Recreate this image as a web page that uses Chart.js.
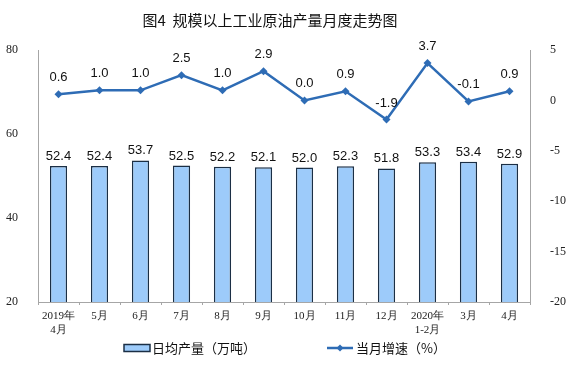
<!DOCTYPE html>
<html>
<head>
<meta charset="utf-8">
<script src="https://cdn.jsdelivr.net/npm/chart.js@4.4.1/dist/chart.umd.min.js"></script>
<style>
  html, body { margin: 0; padding: 0; background: #fff; }
  #wrap { position: relative; width: 573px; height: 391px; }
</style>
</head>
<body>
<div id="wrap"><canvas id="chart" width="573" height="391"></canvas></div>
<script>
(() => {
  'use strict';

  const TITLE = '图4  规模以上工业原油产量月度走势图';
  const months = [['2019年', '4月'], '5月', '6月', '7月', '8月', '9月', '10月', '11月', '12月', ['2020年', '1-2月'], '3月', '4月'];
  const output = [52.4, 52.4, 53.7, 52.5, 52.2, 52.1, 52.0, 52.3, 51.8, 53.3, 53.4, 52.9];
  const growth = [0.6, 1.0, 1.0, 2.5, 1.0, 2.9, 0.0, 0.9, -1.9, 3.7, -0.1, 0.9];
  const barLabel = '日均产量（万吨）';
  const lineLabel = '当月增速（%）';

  const BAR_FILL = '#9DCBFA';
  const BAR_EDGE = '#1B2F45';
  const LINE_COL = '#2E6CB5';
  const AXIS_COL = '#A6A6A6';
  const SANS = '"Liberation Sans", Arial, sans-serif';
  const CJK = '"Noto Sans CJK SC", "Noto Sans", sans-serif';
  const SERIF = '"Liberation Serif", "Times New Roman", serif';

  // value labels above bars and points
  const valueLabels = {
    id: 'valueLabels',
    afterDatasetsDraw(chart) {
      const ctx = chart.ctx;
      ctx.save();
      ctx.font = '13px ' + SANS;
      ctx.fillStyle = '#111';
      ctx.textAlign = 'center';
      ctx.textBaseline = 'alphabetic';
      chart.data.datasets.forEach((ds, i) => {
        const meta = chart.getDatasetMeta(i);
        const off = ds.type === 'line' ? 13 : 6;
        meta.data.forEach((el, j) => {
          ctx.fillText(ds.data[j].toFixed(1), el.x, el.y - off);
        });
      });
      ctx.restore();
    }
  };

  // title and legend
  const decor = {
    id: 'decor',
    afterDraw(chart) {
      const ctx = chart.ctx;
      ctx.save();
      ctx.fillStyle = '#111';
      ctx.textBaseline = 'middle';
      ctx.textAlign = 'center';
      ctx.font = '15px ' + CJK;
      ctx.fillText(TITLE, 270, 20);

      // legend
      ctx.font = '13px ' + CJK;
      ctx.textAlign = 'left';
      ctx.fillStyle = BAR_FILL;
      ctx.fillRect(124, 344.5, 26, 7);
      ctx.strokeStyle = BAR_EDGE;
      ctx.lineWidth = 1.5;
      ctx.strokeRect(124, 344.5, 26, 7);
      ctx.fillStyle = '#111';
      ctx.fillText(barLabel, 152, 348);

      ctx.strokeStyle = LINE_COL;
      ctx.lineWidth = 2.5;
      ctx.beginPath();
      ctx.moveTo(327, 348);
      ctx.lineTo(353, 348);
      ctx.stroke();
      ctx.fillStyle = LINE_COL;
      ctx.beginPath();
      ctx.moveTo(340, 344.5);
      ctx.lineTo(343.5, 348);
      ctx.lineTo(340, 351.5);
      ctx.lineTo(336.5, 348);
      ctx.closePath();
      ctx.fill();
      ctx.fillStyle = '#111';
      ctx.fillText(lineLabel, 356, 348);
      ctx.restore();
    }
  };

  const ctx = document.getElementById('chart').getContext('2d');
  new Chart(ctx, {
    data: {
      labels: months,
      datasets: [
        {
          type: 'line',
          label: lineLabel,
          data: growth,
          yAxisID: 'y1',
          borderColor: LINE_COL,
          backgroundColor: LINE_COL,
          borderWidth: 2.5,
          pointStyle: 'rectRot',
          pointRadius: 4,
          pointBorderWidth: 0,
          tension: 0,
          order: 0
        },
        {
          type: 'bar',
          label: barLabel,
          data: output,
          yAxisID: 'y',
          backgroundColor: BAR_FILL,
          borderColor: BAR_EDGE,
          borderWidth: 1.5,
          categoryPercentage: 1,
          barPercentage: 0.42,
          order: 1
        }
      ]
    },
    options: {
      responsive: false,
      animation: false,
      layout: { padding: { top: 50, left: 0, right: 0, bottom: 0 } },
      plugins: {
        legend: { display: false },
        tooltip: { enabled: false },
        title: { display: false }
      },
      scales: {
        x: {
          offset: true,
          border: { color: AXIS_COL, width: 1 },
          grid: { display: true, drawOnChartArea: false, offset: true, tickLength: 3, color: AXIS_COL },
          ticks: {
            color: '#222',
            font: { family: SERIF, size: 11, lineHeight: 1.25 },
            padding: 4,
            maxRotation: 0,
            autoSkip: false
          },
          afterFit(scale) { scale.height = 89; }
        },
        y: {
          position: 'left',
          min: 20,
          max: 80,
          border: { color: AXIS_COL, width: 1 },
          grid: { display: false },
          ticks: {
            stepSize: 20,
            color: '#222',
            font: { family: SERIF, size: 12 },
            padding: 12
          },
          afterFit(scale) { scale.width = 38; }
        },
        y1: {
          position: 'right',
          min: -20,
          max: 5,
          border: { color: AXIS_COL, width: 1 },
          grid: { display: false },
          ticks: {
            stepSize: 5,
            color: '#222',
            font: { family: SERIF, size: 12 },
            padding: 12
          },
          afterFit(scale) { scale.width = 43; }
        }
      }
    },
    plugins: [valueLabels, decor]
  });
})();
</script>
</body>
</html>
